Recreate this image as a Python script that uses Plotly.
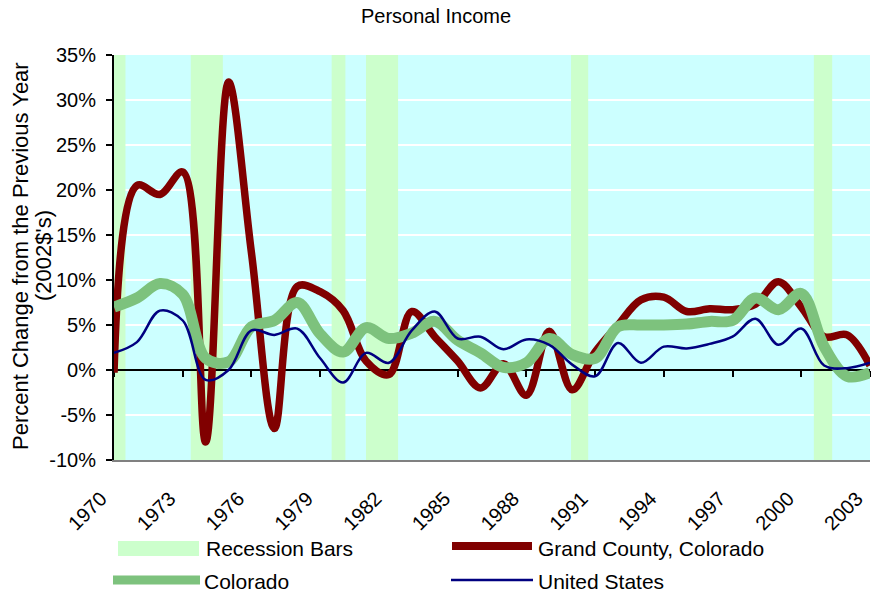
import plotly.graph_objects as go

# Annual percent change in real personal income (2002 dollars)
years = list(range(1970, 2004))

grand_county = [-0.3, 20.5, 19.5, 22.0, -8.0, 32.0, 13.0, -6.5, 9.3, 8.7,
                6.6, 1.0, -0.5, 6.5, 3.7, 1.0, -2.0, 0.7, -2.8, 4.3,
                -2.2, 2.0, 5.0, 7.8, 8.1, 6.5, 6.8, 6.7, 7.3, 9.8,
                7.0, 3.7, 3.9, 0.5]

colorado = [7.0, 8.0, 9.6, 8.4, 1.3, 0.9, 4.8, 5.5, 7.5, 4.0,
            2.0, 4.7, 3.5, 4.1, 5.4, 3.3, 1.9, 0.3, 0.8, 3.5,
            1.7, 1.3, 4.8, 5.0, 5.0, 5.1, 5.4, 5.5, 8.0, 6.7,
            8.5, 2.6, -0.7, -0.3]

united_states = [1.9, 3.1, 6.6, 5.5, -1.1, 0.0, 4.4, 3.9, 4.6, 1.3,
                 -1.4, 1.9, 0.8, 4.4, 6.5, 3.5, 3.7, 2.3, 3.4, 2.8,
                 0.6, -0.7, 3.0, 0.8, 2.6, 2.4, 2.9, 3.7, 5.7, 2.8,
                 4.6, 0.5, 0.2, 0.8]

# Recession periods (start, end) in fractional years
recession_start = [1970.0, 1973.35, 1979.5, 1981.0, 1989.95, 2000.55]
recession_end = [1970.5, 1974.75, 1980.1, 1982.4, 1990.7, 2001.35]

tick_years = list(range(1970, 2004, 3))
y_ticks = list(range(-10, 40, 5))

FONT = "Liberation Sans, Arial, sans-serif"
RED = "#800000"
GREEN = "#7DC27D"
NAVY = "#000080"
BAR = "#CCFFCC"

fig = go.Figure()

fig.add_trace(go.Scatter(x=years, y=grand_county, mode="lines",
                         line=dict(color=RED, width=7.5, shape="spline", smoothing=1.0),
                         name="Grand County, Colorado", showlegend=False))
fig.add_trace(go.Scatter(x=years, y=colorado, mode="lines",
                         line=dict(color=GREEN, width=11, shape="spline", smoothing=1.0),
                         name="Colorado", showlegend=False))
fig.add_trace(go.Scatter(x=years, y=united_states, mode="lines",
                         line=dict(color=NAVY, width=2.5, shape="spline", smoothing=1.0),
                         name="United States", showlegend=False))
# carrier for the labelled bottom axis
fig.add_trace(go.Scatter(x=[years[0], years[-1]], y=[None, None], xaxis="x2",
                         mode="lines", showlegend=False, hoverinfo="skip"))

# recession shading between the gridlines and the data
for s, e in zip(recession_start, recession_end):
    fig.add_shape(type="rect", xref="x", yref="y", x0=s, x1=e, y0=-10, y1=35,
                  fillcolor=BAR, line_width=0, layer="between")

x_range = [years[0] - 0.001, years[-1] + 0.001]
zero_pos = (0 - y_ticks[0]) / (y_ticks[-1] - y_ticks[0])

fig.update_layout(
    width=872, height=594,
    margin=dict(l=114, r=2, t=55, b=134),
    paper_bgcolor="white",
    plot_bgcolor="#CCFFFF",
    font=dict(family=FONT, size=19, color="black"),
    title=dict(text="Personal Income", x=0.5, xref="container", xanchor="center",
               y=1 - 16 / 594, yanchor="middle", yref="container",
               font=dict(family=FONT, size=20, color="black")),
    showlegend=False,
    xaxis=dict(range=x_range, anchor="free", position=zero_pos,
               showgrid=False, zeroline=False,
               showline=True, linecolor="black", linewidth=2,
               tickmode="array", tickvals=tick_years, ticks="outside",
               ticklen=6, tickwidth=2, tickcolor="black",
               showticklabels=False, layer="below traces"),
    xaxis2=dict(range=x_range, overlaying="x", side="bottom", anchor="y",
                showgrid=False, zeroline=False,
                showline=True, linecolor="#808080", linewidth=2,
                tickmode="array", tickvals=tick_years,
                ticktext=[str(y) for y in tick_years],
                ticks="", tickangle=-45, ticklabelstandoff=17, ticklabelshift=-13,
                tickfont=dict(family=FONT, size=20, color="black")),
    yaxis=dict(range=[y_ticks[0], y_ticks[-1]], tickmode="array", tickvals=y_ticks,
               ticktext=[f"{v}%" for v in y_ticks],
               showgrid=True, gridcolor="white", gridwidth=2, zeroline=False,
               showline=True, linecolor="black", linewidth=2,
               ticks="outside", ticklen=6, tickwidth=2, tickcolor="black",
               ticklabelstandoff=6,
               tickfont=dict(family=FONT, size=20, color="black")),
)

def px_x(p):
    return (p - 114) / 756

def px_y(p):
    return (460 - p) / 405

# y-axis title, one annotation per line
for line_text, cx in [("Percent Change from the Previous Year", 20), ("(2002$'s)", 43)]:
    fig.add_annotation(text=line_text, xref="paper", yref="paper",
                       x=px_x(cx), y=px_y(256),
                       xanchor="center", yanchor="middle", textangle=-90,
                       showarrow=False, font=dict(family=FONT, size=22, color="black"))

# legend drawn in two rows beneath the axis
fig.add_shape(type="rect", xref="paper", yref="paper",
              x0=px_x(118), x1=px_x(199), y0=px_y(556), y1=px_y(541),
              fillcolor=BAR, line_width=0)
fig.add_shape(type="line", xref="paper", yref="paper",
              x0=px_x(452), x1=px_x(532), y0=px_y(546), y1=px_y(546),
              line=dict(color=RED, width=8))
fig.add_shape(type="line", xref="paper", yref="paper",
              x0=px_x(113), x1=px_x(200), y0=px_y(580), y1=px_y(580),
              line=dict(color=GREEN, width=9))
fig.add_shape(type="line", xref="paper", yref="paper",
              x0=px_x(451), x1=px_x(533), y0=px_y(580), y1=px_y(580),
              line=dict(color=NAVY, width=2.5))

legend_items = [("Recession Bars", 204, 548), ("Grand County, Colorado", 536, 548),
                ("Colorado", 202, 581), ("United States", 536, 581)]
for label, lx, ly in legend_items:
    fig.add_annotation(text=label, xref="paper", yref="paper",
                       x=px_x(lx), y=px_y(ly), xanchor="left", yanchor="middle",
                       showarrow=False, font=dict(family=FONT, size=21, color="black"))

fig.write_html("out.html")
